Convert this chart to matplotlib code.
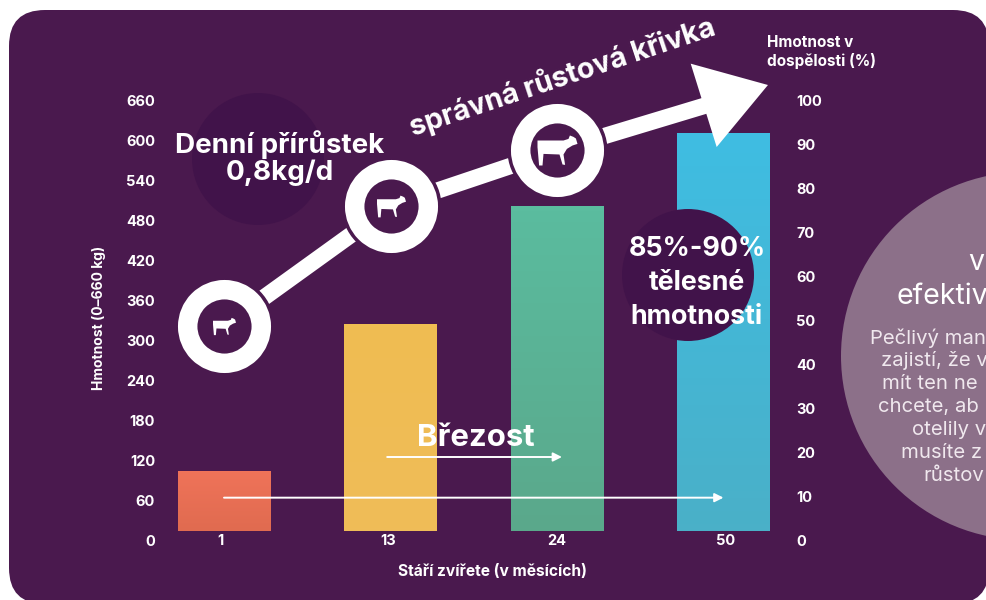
import matplotlib
matplotlib.use('Agg')
import numpy as np
import matplotlib.pyplot as plt
from matplotlib.colors import LinearSegmentedColormap
from matplotlib.patches import Circle, FancyBboxPatch
from matplotlib.path import Path
from matplotlib.transforms import Affine2D

plt.rcParams['font.family'] = ['Inter', 'DejaVu Sans']

# data
ages = ['1', '13', '24', '50']
age_pos = [-0.024, 0.988, 2, 3.01]
bar_tops = [105, 325, 502, 612]
bar_base = 15
top_colors = ['#ef7359', '#f0bd52', '#5bbc9f', '#3fbde2']
low_colors = ['#e06b50', '#efbc58', '#5aa88b', '#4ab0c8']
left_ticks = list(range(0, 661, 60))
right_ticks = list(range(0, 101, 10))
curve_x = [0, 1, 2, 2.955]
curve_y = [322, 502, 586, 658]
head_x = [2.803, 3.267, 2.959]
head_y = [716, 684, 591]
cow_sizes = [23, 29, 40]
long_arrow = ([0, 3], [65, 65])
short_arrow = ([0.98, 2.03], [126, 126])

bg = '#4a194e'
dark = '#41134a'
bar_w = 0.558

fig = plt.figure(figsize=(9.86, 6), dpi=100, facecolor='white')
ax = fig.add_axes([155 / 986, 59 / 600, 637 / 986, 440 / 600])
px = Affine2D().scale(1, -1).translate(0, 600)  # figure pixels, y down

panel = FancyBboxPatch((9, 10), 980, 594, boxstyle='round,pad=0,rounding_size=36',
                       fc=bg, ec='none', transform=px, zorder=-5)
fig.add_artist(panel)

# background discs
ax.add_patch(Circle((258, 159), 66, fc=dark, ec='none', transform=px, clip_on=False, zorder=0))
ax.add_patch(Circle((1025, 356), 184, fc='#8c7089', ec='none', transform=px, clip_on=False, zorder=0))

bars = ax.bar(range(4), [t - bar_base for t in bar_tops], bottom=bar_base, width=bar_w,
              color=low_colors, zorder=1)
shade = np.linspace(1, 0, 60).reshape(-1, 1)
for i, b in enumerate(bars):
    cmap = LinearSegmentedColormap.from_list('bar%d' % i, [low_colors[i], top_colors[i]])
    ax.imshow(shade, cmap=cmap, vmin=0, vmax=1, aspect='auto', zorder=1.5,
              extent=(b.get_x(), b.get_x() + bar_w, bar_base, bar_tops[i]))

# growth curve
ax.plot(curve_x, curve_y, color='white', lw=11.8, solid_capstyle='butt',
        solid_joinstyle='miter', clip_on=False, zorder=2)
ax.fill(head_x, head_y, color='white', ec='none', clip_on=False, zorder=2)
ax.plot(curve_x[:3], curve_y[:3], ls='none', marker='o', ms=71, mfc=bg, mec=bg,
        clip_on=False, zorder=3)
ax.plot(curve_x[:3], curve_y[:3], ls='none', marker='o', ms=53, mfc=bg, mec='white',
        mew=14, clip_on=False, zorder=4)

cow = Path([(-1, .5), (.3, .5), (.55, .58), (.62, .75), (.8, .68), (.92, .6), (1, .33),
            (.75, .25), (.47, .08), (.3, -.2), (.38, -.72), (.25, -.7), (.1, -.2),
            (-.7, -.17), (-.75, -.75), (-.92, -.75), (-1, .17), (-1, .5)], closed=True)
for i in range(3):
    ax.plot(curve_x[i], curve_y[i], ls='none', marker=cow, ms=cow_sizes[i] * 0.72, mfc='white',
            mec='none', clip_on=False, zorder=5)

# dark disc over the last bar
ax.add_patch(Circle((688, 275), 66, fc=dark, ec='none', transform=px, clip_on=False, zorder=6))

# thin arrows
for xs, ys in [long_arrow, short_arrow]:
    ax.annotate('', xy=(xs[1], ys[1]), xytext=(xs[0], ys[0]), zorder=7,
                arrowprops=dict(arrowstyle='-|>', color='white', lw=1.4, shrinkA=0, shrinkB=0,
                                mutation_scale=13))

ax.set_xlim((155 - 224) / 166.5, (792 - 224) / 166.5)
ax.set_ylim(0, 660)
ax.patch.set_visible(False)
ax.set_xticks(age_pos, ages)
ax.set_yticks(left_ticks)
ax.tick_params(length=0, colors='white', labelsize=10.5, pad=0)
for lab in ax.get_xticklabels():
    lab.set_va('center')
    lab.set_fontweight('bold')
for lab in ax.get_yticklabels():
    lab.set_fontweight('bold')
for s in ax.spines.values():
    s.set_visible(False)

ax2 = ax.twinx()
ax2.set_ylim(0, 100)
ax2.set_yticks(right_ticks)
ax2.tick_params(length=0, colors='white', labelsize=10.5, pad=3)
for lab in ax2.get_yticklabels():
    lab.set_fontweight('bold')
for s in ax2.spines.values():
    s.set_visible(False)


def label(x, y, s, size, weight='bold', **kw):
    kw.setdefault('ha', 'center')
    kw.setdefault('va', 'center')
    kw.setdefault('color', 'white')
    ax2.text(x, y, s, fontsize=size, fontweight=weight, transform=px, clip_on=False,
             zorder=8, **kw)


label(99, 318, 'Hmotnost (0–660 kg)', 10, rotation=90)
label(492, 572, 'Stáří zvířete (v měsících)', 11.2)
label(767, 52, 'Hmotnost v\ndospělosti (%)', 11, ha='left', linespacing=1.25)
label(562, 77, 'správná růstová křivka', 20.6, rotation=18.5, rotation_mode='anchor')
label(280, 158, 'Denní přírůstek\n0,8kg/d', 20, linespacing=1.05)
label(697, 283, '85%-90%\ntělesné\nhmotnosti', 19.3, linespacing=1.38)
label(476, 438, 'Březost', 22.4)

# cut-off text on the right disc
label(968, 263, 'v', 20.5, weight='normal', ha='left')
label(896, 296, 'efektiv', 20.5, weight='normal', ha='left')
side_lines = ['Pečlivý man', 'zajistí, že v', 'mít ten ne', 'chcete, ab', 'otelily v', 'musíte z', 'růstov']
side_x = [870, 881, 882, 878, 912, 901, 923]
for i, s in enumerate(side_lines):
    label(side_x[i], 338 + i * 23, s, 14.6, weight='normal', ha='left', color='#f0e8ee')

fig.savefig('out.png', dpi=100, facecolor='white')
